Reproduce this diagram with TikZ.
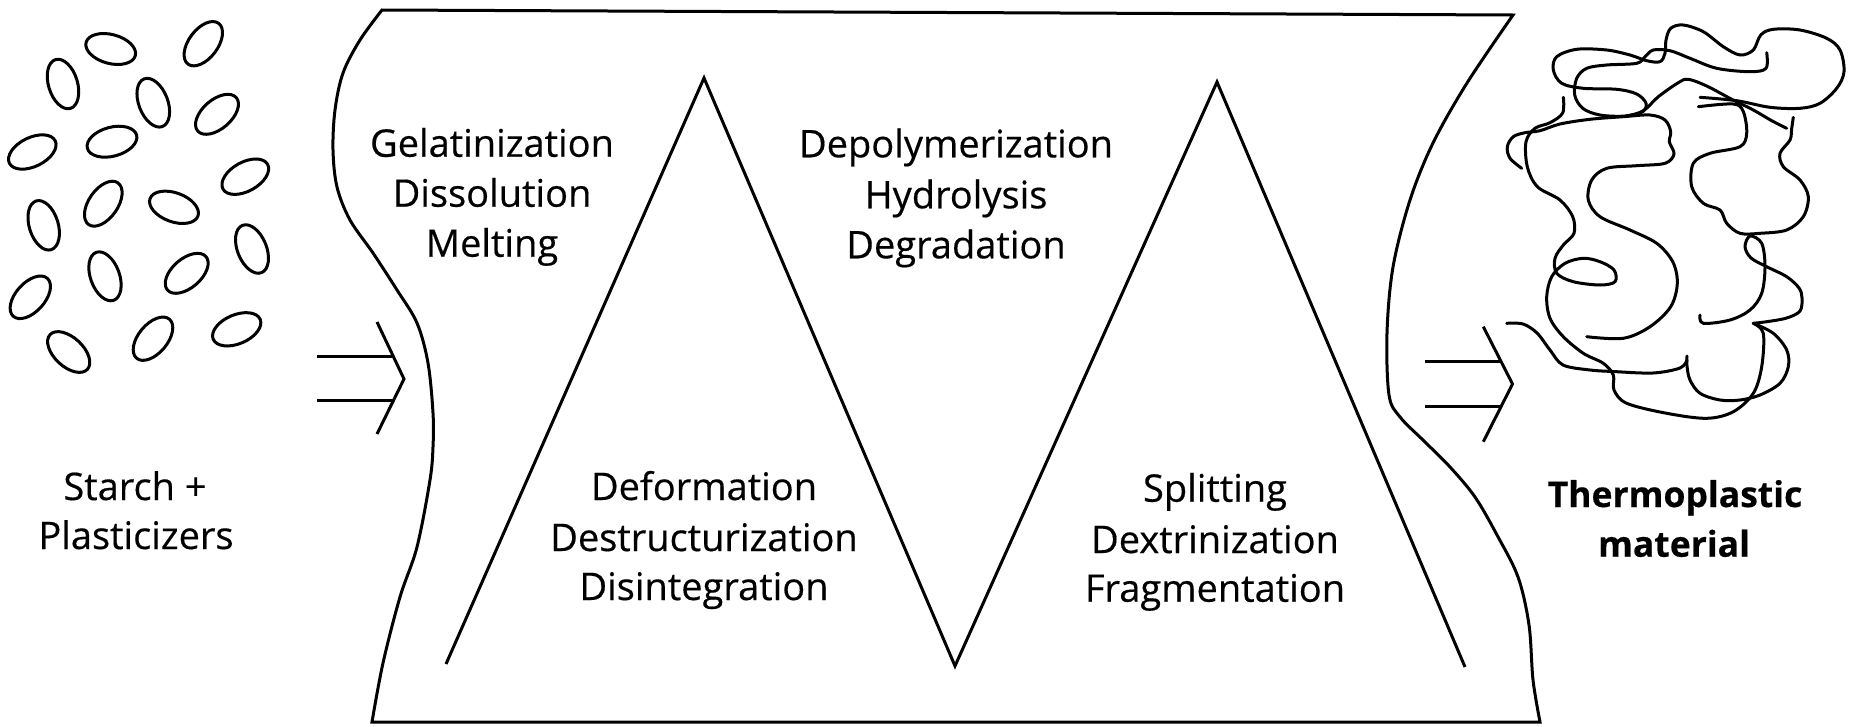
\documentclass[tikz,border=0pt]{standalone}
\usepackage{fontspec}
\setmainfont{Open Sans}[FakeBold=0.4]
\begin{document}
\begin{tikzpicture}[x=1pt,y=-1pt,
  ln/.style={line width=3pt, line join=round, line cap=round},
  sharp/.style={line width=3pt, line join=miter, line cap=butt},
  lbl/.style={anchor=base, inner sep=0pt, font=\fontsize{38}{44}\selectfont},
  blbl/.style={anchor=base, inner sep=0pt, font=\fontsize{35.5}{42}\selectfont\bfseries}]
\useasboundingbox[fill=white] (0,0) rectangle (1849,726);

% starch granules
\foreach \gx/\gy/\ga in {110.7/49/-15, 203.3/43.7/53, 63/84/-73, 153.3/102.7/-69,
  217/114.3/41, 32.3/152/26, 112/141.7/15, 245.3/176.7/29, 43.7/225.3/-73,
  103.3/203.7/55, 174/207.3/-20, 252/249/-68, 105/276.3/-70, 186.7/273.3/41,
  30.3/297.3/48, 68.7/352/-43, 153/338.7/50, 236.7/329.3/23}
  \draw[ln, rotate around={\ga:(\gx,\gy)}] (\gx,\gy) ellipse [x radius=25.5pt, y radius=14.5pt];

% extruder frame
\draw[sharp] plot[smooth, tension=0.55] coordinates {(372,722) (383,663) (400,597) (417,547) (430,480) (433,447) (433,413) (428,363) (417,323) (397,290) (373,253) (350,220) (337,187) (333,150) (335,110) (343,73) (360,40) (382,10)}
  -- plot[smooth, tension=0.55] coordinates {(1513,15) (1467,83) (1433,143) (1410,200) (1393,267) (1387,333) (1389,395) (1400,417) (1425,442) (1450,467) (1475,497) (1497,535) (1518,577) (1529,625) (1533,680) (1540,722)}
  -- cycle;

% zigzag
\coordinate (z0) at (446,664);
\coordinate (z1) at (704,78);
\coordinate (z2) at (955,666);
\coordinate (z3) at (1217,82);
\coordinate (z4) at (1465,667);
\draw[sharp] (z0) -- (z1) -- (z2) -- (z3) -- (z4);

% input double arrow
\coordinate (ia1) at (317,356.7);
\coordinate (ia1e) at (394,356.7);
\coordinate (ia2) at (317,400);
\coordinate (ia2e) at (394,400);
\coordinate (iat) at (377,322);
\coordinate (iah) at (404,379);
\coordinate (iab) at (377,434);
\draw[sharp] (ia1) -- (ia1e);
\draw[sharp] (ia2) -- (ia2e);
\draw[sharp] (iat) -- (iah) -- (iab);

% output double arrow
\coordinate (oa1) at (1425,361.5);
\coordinate (oa1e) at (1501,361.5);
\coordinate (oa2) at (1425,406.7);
\coordinate (oa2e) at (1501,406.7);
\coordinate (oat) at (1483.3,326.7);
\coordinate (oah) at (1512.5,384);
\coordinate (oab) at (1483.3,441.7);
\draw[sharp] (oa1) -- (oa1e);
\draw[sharp] (oa2) -- (oa2e);
\draw[sharp] (oat) -- (oah) -- (oab);

% random coil (thermoplastic material)
\draw[ln] plot[smooth, tension=0.55] coordinates {(1521.7,168.3) (1510,158.3) (1507.3,146.7) (1513.3,136.7) (1525,132.7) (1540,130.7) (1560,124) (1590,119.3) (1623.3,116.7) (1650,115) (1665,120) (1670.7,131.7) (1669.3,141.7) (1674,154) (1665,163.3) (1636.7,165.7) (1606.7,168.3) (1591.7,180) (1588.3,200) (1600,216.7) (1630,230) (1656.7,243.3) (1672.7,261.7) (1677.3,283.3) (1670.7,306.7) (1650,326.7) (1623.3,338.3) (1586.7,336.7)};
\draw[ln] plot[smooth, tension=0.55] coordinates {(1563.3,97.3) (1562.7,113) (1550,122.7) (1535,128.3) (1526,141.7) (1527.3,166.7) (1537.3,186.7) (1560,200) (1572.7,216.7) (1574,233.3) (1563.3,245) (1555,258.3) (1556.7,273.3) (1573.3,281.7) (1600,285) (1615,281.7) (1614,270) (1600,261.7) (1583.3,258.3) (1565,263.3) (1551.7,276.7) (1546.7,296.7) (1550,318.3) (1563.3,336.7) (1583.3,353.3) (1603.3,363.3) (1613.3,375) (1614,390) (1626.7,403.3) (1666.7,413.3) (1706.7,418.3) (1733.3,411.7) (1753.3,393.3) (1761.7,366.7) (1763.3,333.3) (1753.3,323.3)};
\draw[ln] plot[smooth, tension=0.55] coordinates {(1753.3,323.3) (1766.7,321.7) (1786.7,318) (1800,311) (1802,298) (1799,288) (1786.7,276.7) (1766.7,266.7) (1751,258) (1745,246.7) (1750,236) (1761.7,243.3) (1765,266.7) (1761.7,293.3) (1750,310) (1730,320) (1703.3,323.3) (1700,315)};
\draw[ln] plot[smooth, tension=0.55] coordinates {(1753.3,323.3) (1773.3,333.3) (1786.7,350) (1788.3,366.7) (1780,383.3) (1760,395) (1740,400) (1720,400) (1700,393.3) (1690,380) (1687,366) (1687,356)};
\draw[ln] plot[smooth, tension=0.55] coordinates {(1506.7,323.3) (1523,324) (1537,333) (1550,350) (1563,365) (1590,370) (1613,371.5) (1653,373) (1680,368) (1687,360)};
\draw[ln] plot[smooth, tension=0.55] coordinates {(1626.7,116) (1642.7,111.7) (1646,103.3) (1636.7,94) (1616.7,89.3) (1583.3,88.3) (1561.7,83.3) (1553.3,70) (1556.7,56.7) (1576.7,49.3) (1606.7,50) (1630,55) (1646.7,60.7) (1660,61.7) (1665,53.3) (1666,40) (1670.7,28.3) (1683.3,25) (1703.3,31.7) (1723.3,46.7) (1740,55) (1753.3,50) (1760.7,35) (1773.3,29.3) (1800,30) (1826.7,38.3) (1840,50) (1844,71.7) (1836.7,88.3) (1820,103.3) (1800,108.3) (1770,107.3) (1736.7,100.7) (1700,97.3)};
\draw[ln] plot[smooth, tension=0.55] coordinates {(1766.7,52.7) (1766,68.3) (1750,71.7) (1716.7,68.3) (1690,58.3) (1670,50.7) (1653.3,50) (1645,56.7) (1636.7,63.3) (1606.7,65) (1586.7,68.3) (1576.7,78.3) (1574.7,95) (1582.7,108.3) (1600,115) (1625,116) (1643.3,110.7) (1658.3,96.7) (1678.3,82.7) (1688.3,79.3) (1706.7,86) (1731.7,99.3) (1753.3,110) (1771.7,120.7) (1786.7,128.3)};
\draw[ln] plot[smooth, tension=0.55] coordinates {(1793.3,117.3) (1791.7,128.3) (1790,140) (1780,153.3) (1783.3,166.7) (1800,180) (1808.3,196.7) (1803.3,216.7) (1786.7,230) (1760,233.3) (1740,233.3) (1726.7,223.3) (1720,210) (1703.3,203.3) (1691.7,186.7) (1693.3,163.3) (1710,153.3) (1740,146.7) (1746.7,133.3) (1743.3,111.7) (1733.3,104) (1698.3,106.7)};

% labels
\node[lbl] (sp1) at (135,500) {Starch +};
\node[lbl] (sp2) at (136,549) {Plasticizers};

\node[lbl] (g1) at (492,156.7) {Gelatinization};
\node[lbl] (g2) at (492,206.7) {Dissolution};
\node[lbl] (g3) at (492,256.7) {Melting};

\node[lbl] (d1) at (956,157.3) {Depolymerization};
\node[lbl] (d2) at (956,208.3) {Hydrolysis};
\node[lbl] (d3) at (956,258.3) {Degradation};

\node[lbl] (f1) at (704,500) {Deformation};
\node[lbl] (f2) at (704,551) {Destructurization};
\node[lbl] (f3) at (704,600) {Disintegration};

\node[lbl] (s1) at (1215,501.7) {Splitting};
\node[lbl] (s2) at (1215,553) {Dextrinization};
\node[lbl] (s3) at (1215,601.7) {Fragmentation};

\node[blbl] (t1) at (1675,507) {Thermoplastic};
\node[blbl] (t2) at (1674,556.7) {material};
\end{tikzpicture}
\end{document}
